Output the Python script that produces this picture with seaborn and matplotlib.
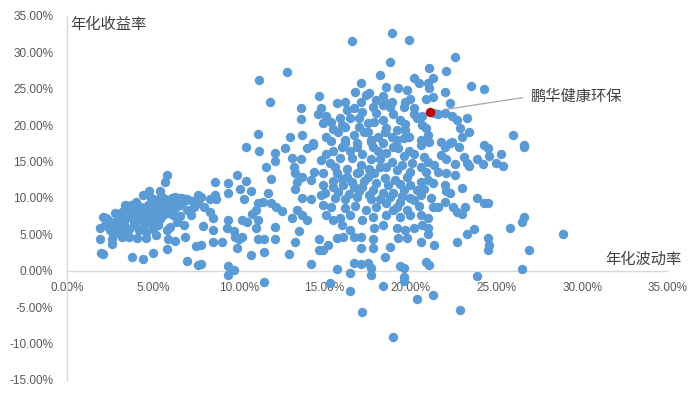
import matplotlib
matplotlib.use("Agg")
import matplotlib.pyplot as plt
import seaborn as sns
import numpy as np
from matplotlib.ticker import FuncFormatter, MultipleLocator

# ---------------- data (annualised volatility %, annualised return %) ----------------
low_vol = [1.9,1.9,2.0,2.1,2.2,2.4,2.5,2.6,2.6,2.8,3.0,3.1,3.2,3.3,3.4,3.6,3.6,3.7,3.8,3.9,4.0,4.1,4.3,4.3,4.4,4.4,4.5,4.6,4.7,4.7,
           4.8,4.8,5.0,5.0,5.1,5.2,5.3,5.4,5.4,5.5,5.7,5.7,5.8,5.8,5.9,6.0,6.1,6.2,6.3,6.3,6.4,6.6,6.7,6.8,6.9,7.0,7.2,7.3,7.5,7.6,
           7.6,5.8,5.0,4.4,3.8,7.0,7.8,2.1,2.3,2.6,2.9,3.0,3.3,3.5,3.6,3.8,3.9,4.1,4.2,4.4,4.5,4.7,4.8,5.0,5.1,5.3,5.4,5.6,5.7,5.9,
           6.1,6.3,6.5,6.8,4.0,3.4,2.8,4.9,5.5,3.2,2.7,4.6,5.2,6.0,6.6,7.0,7.4]
low_ret = [4.4,5.9,2.5,7.4,6.3,7.0,5.6,4.3,3.7,6.7,7.7,5.9,8.1,7.0,5.4,4.7,8.4,9.1,7.3,6.3,8.0,4.5,8.7,7.0,10.4,5.9,7.7,4.5,9.1,6.7,
           10.9,8.1,5.8,9.8,7.7,9.1,6.3,10.9,7.1,8.7,9.8,12.2,13.1,5.6,4.3,8.4,10.0,7.7,10.2,4.1,6.7,9.1,10.0,6.3,4.7,8.4,7.7,9.6,3.4,10.4,
           0.8,3.0,2.5,1.6,1.9,1.3,1.0,2.3,7.3,6.2,5.2,6.9,6.4,7.6,5.8,8.7,6.8,7.4,5.6,8.1,6.3,8.4,7.1,6.6,8.8,9.4,8.0,7.6,9.1,8.0,
           9.3,8.6,10.0,9.6,9.4,9.0,8.0,10.0,10.3,4.6,5.0,5.3,4.9,6.0,7.5,9.9,8.8]

mid_vol = [10.4,11.2,12.1,12.7,12.1,11.6,11.9,9.9,9.4,8.6,10.4,10.1,10.7,9.4,10.3,11.7,11.4,11.1,11.0,10.8,11.9,12.2,12.5,7.8,7.6,
           8.3,8.7,8.6,8.0,8.3,8.5,9.4,9.3,10.2,10.5,11.1,11.0,7.9,8.5,7.8,8.5,9.0,9.7,9.8,10.0,10.2,9.9,10.7,11.1,11.5,12.1,12.1,
           11.5,12.9,13.3,13.5,13.1,13.4,13.7,14.0,13.3,13.4,13.7,14.2,13.1,13.2,13.3,13.7,13.6,14.0,14.3,14.4,14.8,14.2,9.4,9.4,
           9.7,14.2,14.7,14.7,11.5,12.8,11.2,11.8,13.6,13.6,14.7,14.8,14.6,14.9,11.1,13.0,13.7,14.3]
mid_ret = [17.0,16.5,16.2,16.9,15.1,14.2,12.6,13.2,12.1,12.2,12.4,11.3,11.0,10.7,9.9,10.7,9.5,9.3,8.4,7.8,9.3,8.7,8.2,10.2,9.3,
           9.9,9.9,10.4,8.7,8.1,7.3,7.0,5.9,7.0,6.7,7.0,5.9,6.2,5.6,3.6,3.9,3.9,5.4,4.7,4.3,4.7,3.2,2.2,4.3,4.4,4.3,6.0,
           2.6,2.3,3.9,5.5,7.3,8.4,7.7,7.0,11.3,12.2,10.0,9.8,15.5,14.2,13.5,12.9,15.3,16.9,17.3,13.6,10.4,12.5,0.6,-0.6,
           0.1,1.0,4.3,2.9,-1.5,27.3,26.2,23.2,22.4,20.9,24.0,22.4,21.6,20.3,18.8,18.4,18.6,17.5]

core_vol = [18.9,16.6,19.9,18.8,18.2,21.1,21.3,20.2,20.5,21.0,21.1,19.3,19.8,18.6,17.1,16.8,17.4,17.6,17.1,16.2,15.7,18.4,18.6,
            18.9,18.4,18.8,19.7,19.6,20.2,20.9,21.3,20.7,20.4,21.4,17.8,17.2,16.7,16.3,15.1,15.9,16.5,15.4,16.2,17.0,17.5,17.9,
            18.4,18.6,19.4,19.7,19.2,19.9,20.9,21.0,15.1,15.8,16.7,17.5,18.1,18.9,19.6,20.6,
            15.5,16.2,16.9,17.7,18.1,18.6,19.3,19.9,20.6,21.1,21.4,20.6,20.0,19.2,18.6,18.2,17.7,17.1,16.6,15.9,15.3,14.9,15.7,
            16.3,16.9,17.5,17.9,18.5,19.1,19.8,20.6,21.0,20.4,19.6,19.0,18.4,17.8,17.2,16.7,16.1,15.5,15.0,15.6,16.2,16.9,17.7,
            18.6,19.4,20.0,20.6,21.3,19.0,18.6,19.4,20.0,20.6,21.0,17.8,17.2,16.5,15.9,15.1,14.9,15.4,18.4,17.9,19.2,19.7,20.2,
            20.7,21.0,21.0,20.6,19.8,19.3,18.8,18.5,17.8,17.8,17.1,17.1,16.5,16.7,16.1,15.7,15.2,14.9,16.0,15.5,17.5,16.7,15.7,
            19.4,20.9,17.7,19.6,17.7,17.1,19.6,21.1,
            15.3,16.5,16.5,18.4,19.6,20.4,21.3,22.9,17.2,19.0]
core_ret = [32.7,31.5,31.7,28.7,26.9,27.8,26.5,26.5,25.8,25.8,25.1,25.1,24.9,25.3,25.8,24.6,24.2,24.4,23.2,23.2,23.1,24.0,23.1,
            23.2,22.8,22.5,23.2,22.5,22.4,23.6,23.9,21.2,21.0,21.7,22.5,21.8,22.4,22.1,21.2,21.0,21.0,20.5,19.8,19.8,20.3,20.5,
            20.7,19.6,20.7,20.1,19.4,18.4,19.6,18.7,18.4,19.0,18.7,19.0,18.4,18.4,18.3,18.0,
            16.4,17.6,17.0,17.7,16.4,16.2,16.9,16.4,17.3,17.7,14.6,14.3,13.6,13.9,14.3,15.3,15.3,14.6,15.5,15.5,14.8,13.5,13.5,
            12.9,13.5,12.9,13.5,12.8,12.5,12.9,12.2,12.5,11.1,11.1,10.7,10.7,11.1,11.5,11.5,11.8,11.5,10.7,10.0,9.8,10.2,9.8,
            9.3,9.5,10.0,10.4,8.8,8.4,7.7,7.4,7.7,7.7,7.3,7.4,7.0,7.7,7.3,7.7,9.1,8.7,6.3,5.9,5.9,5.6,5.9,
            6.3,5.9,5.0,3.9,4.5,4.5,3.3,1.9,4.3,3.2,4.7,3.2,5.6,4.7,4.7,4.5,3.6,2.9,6.3,7.0,1.1,1.1,0.3,
            0.6,1.2,-0.6,-0.8,0.4,1.0,0.4,0.8,
            -1.7,-0.3,-2.8,-2.1,-1.4,-3.9,-3.3,-5.4,-5.6,-9.1]

fill_vol = [16.0,16.5,17.2,17.8,18.4,19.0,19.6,20.2,20.8,15.6,16.3,17.0,17.6,18.2,18.9,19.5,20.1,20.9,16.0,16.6,17.3,18.0,
            18.7,19.4,20.0,20.8,15.8,16.4,17.0,17.6,18.2,18.8,19.5,20.2,16.2,16.8,17.4,18.0,19.2,19.8,20.5,15.5,14.9,15.1,
            14.8,21.2,21.0,21.3,20.7,19.0,18.0,17.0,16.0,15.5,17.3,18.5,19.7,20.2,20.0,18.0,17.7,16.2,19.2,16.9,15.4]
fill_ret = [17.0,16.4,16.0,17.0,17.5,17.0,15.8,16.0,15.6,14.2,14.0,13.6,14.0,14.2,15.0,14.5,14.8,13.6,12.6,12.2,12.3,12.0,
            11.8,11.9,11.8,11.2,10.8,10.6,10.9,10.4,9.9,10.1,10.3,9.7,8.6,8.9,8.4,8.7,8.8,8.3,8.9,12.4,11.8,16.0,
            15.2,10.0,15.0,12.0,20.0,21.5,21.7,21.0,20.0,19.5,19.0,19.0,19.3,21.5,23.6,23.5,18.0,18.0,18.0,17.5,17.8]

high_vol = [22.6,22.1,23.5,24.3,22.0,22.3,21.6,22.0,22.4,22.7,23.3,22.9,23.0,23.4,26.0,26.6,24.3,21.8,22.4,
            26.6,24.5,25.3,24.6,23.9,24.2,25.0,25.4,23.3,23.4,23.1,22.6,22.8,22.0,22.3,21.8,22.1,21.6,22.1,22.6,22.0,
            23.0,22.1,22.3,22.0,21.6,22.5,22.7,23.0,23.2,23.9,24.3,24.5,26.6,26.5,25.8,23.7,23.3,24.5,24.6,24.5,22.7,
            26.9,26.5,23.9,21.4,28.9]
high_ret = [29.3,27.5,25.4,25.0,24.6,23.1,21.6,21.7,21.2,20.7,21.0,19.6,18.4,19.1,18.7,17.3,17.3,17.7,17.7,
            17.0,16.8,16.1,15.8,15.3,14.7,14.8,14.4,14.8,14.4,15.7,14.7,17.0,17.0,17.6,15.9,15.3,13.6,13.5,13.1,11.8,
            11.4,10.9,10.7,9.5,8.8,8.7,8.1,7.8,8.8,10.0,9.3,9.3,7.4,6.7,5.9,5.8,5.0,4.5,3.6,2.9,3.9,
            2.9,0.3,-0.7,3.6,5.0]

fund_name = "鹏华健康环保"
fund_vol = [21.14]
fund_ret = [21.84]

x_ticks = [0, 5, 10, 15, 20, 25, 30, 35]
y_ticks = [-15, -10, -5, 0, 5, 10, 15, 20, 25, 30, 35]
x_title = "年化波动率"
y_title = "年化收益率"

# ---------------- plotting ----------------
sns.set_style("white")
plt.rcParams["font.family"] = ["Liberation Sans", "Noto Sans CJK SC", "DejaVu Sans"]

vol = low_vol + mid_vol + core_vol + fill_vol + high_vol
ret = low_ret + mid_ret + core_ret + fill_ret + high_ret

fig = plt.figure(figsize=(7.0, 3.96), dpi=100)
ax = fig.add_axes([67/700, 16/396, 601/700, 364/396])

sns.scatterplot(x=vol, y=ret, ax=ax, color="#5B9BD5", s=46, linewidth=0, zorder=3)
sns.scatterplot(x=fund_vol, y=fund_ret, ax=ax, color="#C00000", s=46, linewidth=0, zorder=4)

ax.set_xlim(x_ticks[0], x_ticks[-1])
ax.set_ylim(y_ticks[0], y_ticks[-1])
ax.set_xticks(x_ticks)
ax.set_yticks(y_ticks)
fmt = FuncFormatter(lambda v, p: f"{v:.2f}%")
ax.xaxis.set_major_formatter(fmt)
ax.yaxis.set_major_formatter(fmt)
ax.tick_params(axis="both", length=0, labelsize=8.5, labelcolor="#595959")
ax.tick_params(axis="x", pad=8)
ax.tick_params(axis="y", pad=10)

for s in ["top", "right"]:
    ax.spines[s].set_visible(False)
ax.spines["left"].set_color("#D9D9D9")
ax.spines["bottom"].set_color("#D9D9D9")
ax.spines["bottom"].set_position(("data", 0))
ax.spines["left"].set_linewidth(1.0)
ax.spines["bottom"].set_linewidth(1.0)
ax.set_xlabel("")
ax.set_ylabel("")
ax.grid(False)

cjk = ["Noto Sans CJK SC", "DejaVu Sans"]
fig.text(70/700, 1 - 25/396, y_title, ha="left", va="center", fontsize=11,
         family=cjk, color="#404040")
fig.text(681/700, 1 - 259/396, x_title, ha="right", va="center", fontsize=11,
         family=cjk, color="#404040")

ax.annotate(fund_name, xy=(fund_vol[0], fund_ret[0]), xytext=(72, 11),
            textcoords="offset points", ha="left", va="center", fontsize=11,
            family=cjk, color="#404040",
            arrowprops=dict(arrowstyle="-", color="#A6A6A6", lw=0.9,
                            shrinkA=3, shrinkB=12, relpos=(0, 0.5)))

fig.savefig("out.png", dpi=100)
